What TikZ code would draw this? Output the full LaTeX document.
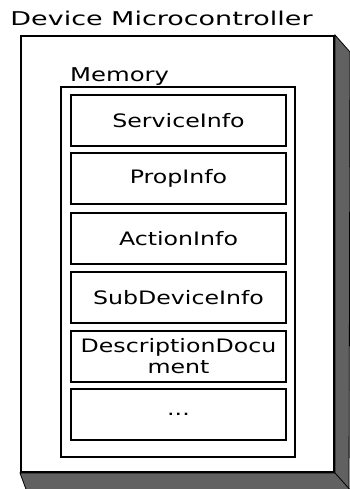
\documentclass[tikz,border=0pt]{standalone}
\usepackage{fontspec}
\setmainfont{DejaVu Sans}[FakeStretch=1.28]
\newfontfamily\titlefont{DejaVu Sans}[FakeStretch=1.42]
\begin{document}
\begin{tikzpicture}[x=1pt,y=-1pt,
  box/.style={draw=black,line width=2pt,rectangle,inner sep=0pt},
  membox/.style={box,minimum width=215pt,minimum height=51pt,align=center,
    font=\fontsize{18.5pt}{21pt}\selectfont},
  lbl/.style={inner sep=0pt,font=\fontsize{19pt}{22pt}\selectfont},
  shadowfill/.style={fill=black!62,draw=black,line width=0.8pt}
]
\useasboundingbox (0,0) rectangle (350,489);
\clip (0,0) rectangle (350,489);
% outer device box
\node[box,minimum width=313pt,minimum height=436pt] (outer) at (177.5,254) {};
\fill[shadowfill] (outer.north east) -- ++(15,17) -- (349,500) -- (30,500)
  -- (outer.south west) -- (outer.south east) -- cycle;
\draw[line width=0.8pt] (outer.south east) -- ++(18,20);
\node[box,minimum width=313pt,minimum height=436pt] at (outer.center) {};
\node[lbl,anchor=base,font=\titlefont\fontsize{19pt}{22pt}\selectfont] (title) at (161.5,26) {Device Microcontroller};
% memory
\node[box,minimum width=234pt,minimum height=370pt] (mem) at (178,272) {};
\node[lbl,anchor=base west] (memlbl) at (70,82) {Memory};
\node[membox] (b1) at (178.5,120.5) {ServiceInfo};
\node[membox] (b2) at (178.5,178.5) {PropInfo};
\node[membox] (b3) at (178.5,238.5) {ActionInfo};
\node[membox] (b4) at (178.5,297.5) {SubDeviceInfo};
\node[membox] (b5) at (178.5,356.5) {DescriptionDocu\\ment};
\node[membox] (b6) at (178.5,414.5) {...};
\end{tikzpicture}
\end{document}
